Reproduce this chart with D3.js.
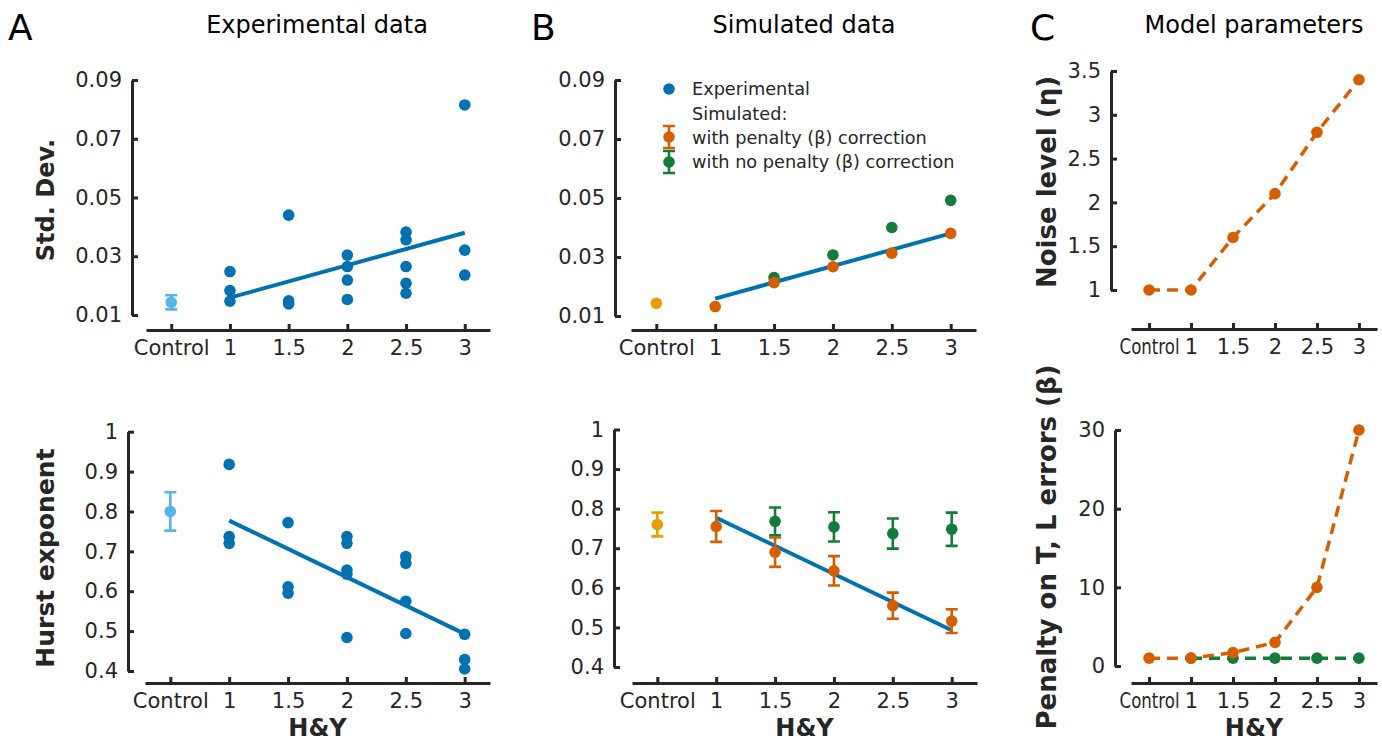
<!DOCTYPE html>
<html lang="en">

<head>
    <meta charset="utf-8">
    <title>H&amp;Y figure</title>
    <script type="text/javascript" src="https://cdn.jsdelivr.net/npm/d3@7"></script>
    <style>
      body { margin: 0; background: #fff; }
      svg text { font-family: 'DejaVu Sans', Verdana, sans-serif; fill: #262626; }
    </style>
</head>

<body>
    <script type="text/javascript">
      //// Data
      var categories = ["Control", "1", "1.5", "2", "2.5", "3"];
      var stages = ["1", "1.5", "2", "2.5", "3"];

      // A: experimental data, one array of subjects per H&Y stage
      var expSdControl = [0.0143, 0.0024];          // mean, error
      var expSd = [
        [0.0248, 0.0183, 0.0147],
        [0.044, 0.0148, 0.0138],
        [0.0304, 0.0265, 0.0219, 0.0153],
        [0.0382, 0.0356, 0.0265, 0.0208, 0.0174],
        [0.0815, 0.0321, 0.0236]
      ];
      var fitSd = [0.0159, 0.038];                  // regression at H&Y 1 and 3

      var expHurstControl = [0.80, 0.048];
      var expHurst = [
        [0.918, 0.737, 0.720],
        [0.772, 0.611, 0.595],
        [0.737, 0.720, 0.653, 0.643, 0.484],
        [0.687, 0.670, 0.575, 0.494],
        [0.492, 0.429, 0.405]
      ];
      var fitHurst = [0.777, 0.493];

      // B: simulated data
      var simSdControl = 0.0143;
      var simSdPenalty = [0.0132, 0.0213, 0.0267, 0.0313, 0.038];
      var simSdNoPenalty = [null, 0.023, 0.0307, 0.040, 0.0492];

      var simHurstControl = [0.760, 0.030];
      var simHurstPenalty = [0.755, 0.690, 0.643, 0.555, 0.516];
      var simHurstPenaltyErr = [0.039, 0.037, 0.037, 0.033, 0.030];
      var simHurstNoPenalty = [null, 0.768, 0.754, 0.737, 0.748];
      var simHurstNoPenaltyErr = [null, 0.035, 0.037, 0.038, 0.042];

      // C: model parameters (Control first)
      var noiseLevel = [1, 1, 1.6, 2.1, 2.8, 3.4];
      var penaltyWith = [1, 1, 1.7, 3, 10, 30];
      var penaltyNo = [null, 1, 1, 1, 1, 1];

      var sdTicks = [0.01, 0.03, 0.05, 0.07, 0.09];
      var hurstTicks = [0.4, 0.5, 0.6, 0.7, 0.8, 0.9, 1];
      var noiseTicks = [1, 1.5, 2, 2.5, 3, 3.5];
      var penaltyTicks = [0, 10, 20, 30];

      //// Colours
      var blue = "#0072B2", sky = "#56B4E9", gold = "#E69F00",
          orange = "#D55E00", green = "#137C3B", ink = "#262626";

      var w = 1382, h = 742;
      var svg = d3.select("body").append("svg")
        .attr("width", w)
        .attr("height", h);

      //// One axes box with offset axes
      function panel(c) {
        var x = d3.scalePoint().domain(categories).range([c.x0, c.x1]).padding(0.43);
        var y = d3.scaleLinear().domain(c.yDomain).range(c.yRange);

        var gy = svg.append("g")
          .attr("transform", "translate(" + c.yAxisX + ",0)")
          .call(d3.axisLeft(y).tickValues(c.yTicks).tickFormat(c.yFmt)
            .tickSizeInner(-6).tickSizeOuter(0).tickPadding(10));
        var gx = svg.append("g")
          .attr("transform", "translate(0," + c.xAxisY + ")")
          .call(d3.axisBottom(x).tickSizeInner(-6).tickSizeOuter(0).tickPadding(10));

        [gx, gy].forEach(function(g) {
          g.select(".domain").attr("stroke", ink).attr("stroke-width", 3);
          g.selectAll(".tick line").attr("stroke", ink).attr("stroke-width", 3);
          g.selectAll(".tick text").attr("font-size", "21px")
            .attr("font-family", null).attr("fill", ink);
        });
        if (c.condensed) {
          // narrow panel: squeeze the Control label
          gx.selectAll(".tick text").filter(function(d) { return d === "Control"; })
            .attr("transform", "scale(0.79,1)");
        }

        if (c.yLabel) {
          svg.append("text")
            .attr("transform", "translate(" + c.yLabelX + "," + c.yLabelY + ") rotate(-90)")
            .attr("dy", "0.36em")
            .attr("text-anchor", "middle")
            .attr("font-weight", "bold")
            .attr("font-size", c.yLabelSize + "px")
            .text(c.yLabel);
        }
        if (c.hy) {
          svg.append("text")
            .attr("x", (c.x0 + c.x1) / 2).attr("y", 736)
            .attr("text-anchor", "middle")
            .attr("font-weight", "bold")
            .attr("font-size", "24px")
            .text("H&Y");
        }
        return { x: x, y: y, g: svg.append("g") };
      }

      function dot(g, cx, cy, col) {
        g.append("circle").attr("cx", cx).attr("cy", cy).attr("r", 5.8).attr("fill", col);
      }

      function errBar(g, cx, y, m, e, col) {
        var p = d3.path();
        p.moveTo(cx, y(m - e)); p.lineTo(cx, y(m + e));
        p.moveTo(cx - 6, y(m - e)); p.lineTo(cx + 6, y(m - e));
        p.moveTo(cx - 6, y(m + e)); p.lineTo(cx + 6, y(m + e));
        g.append("path").attr("d", p.toString()).attr("fill", "none")
          .attr("stroke", col).attr("stroke-width", 2.6);
      }

      function fitLine(P, vals) {
        P.g.append("line")
          .attr("x1", P.x("1")).attr("y1", P.y(vals[0]))
          .attr("x2", P.x("3")).attr("y2", P.y(vals[1]))
          .attr("stroke", blue).attr("stroke-width", 4);
      }

      function scatter(P, groups) {
        groups.forEach(function(vals, i) {
          vals.forEach(function(v) { dot(P.g, P.x(stages[i]), P.y(v), blue); });
        });
      }

      //// Panel letters and titles
      [["A", 8], ["B", 531], ["C", 1030]].forEach(function(l) {
        svg.append("text").attr("x", l[1]).attr("y", 40)
          .attr("font-size", "36px").style("fill", "#000").text(l[0]);
      });
      [["Experimental data", 317], ["Simulated data", 804], ["Model parameters", 1254]].forEach(function(t) {
        svg.append("text").attr("x", t[1]).attr("y", 33)
          .attr("text-anchor", "middle").attr("font-size", "24px")
          .style("fill", "#000").text(t[0]);
      });

      var sdFmt = d3.format(".2f"), gFmt = d3.format("~g");

      //// A top: Std. Dev.
      var aTop = panel({ x0: 146, x1: 490, xAxisY: 330, yAxisX: 132,
        yDomain: [0.01, 0.09], yRange: [315, 80], yTicks: sdTicks, yFmt: sdFmt,
        yLabel: "Std. Dev.", yLabelX: 45, yLabelY: 200, yLabelSize: 24 });
      errBar(aTop.g, aTop.x("Control"), aTop.y, expSdControl[0], expSdControl[1], sky);
      dot(aTop.g, aTop.x("Control"), aTop.y(expSdControl[0]), sky);
      scatter(aTop, expSd);
      fitLine(aTop, fitSd);

      //// A bottom: Hurst exponent
      var aBot = panel({ x0: 145, x1: 490, xAxisY: 683, yAxisX: 128,
        yDomain: [0.4, 1], yRange: [671, 431.7], yTicks: hurstTicks, yFmt: gFmt,
        yLabel: "Hurst exponent", yLabelX: 45, yLabelY: 558, yLabelSize: 25, hy: true });
      errBar(aBot.g, aBot.x("Control"), aBot.y, expHurstControl[0], expHurstControl[1], sky);
      dot(aBot.g, aBot.x("Control"), aBot.y(expHurstControl[0]), sky);
      scatter(aBot, expHurst);
      fitLine(aBot, fitHurst);

      //// B top: simulated Std. Dev.
      var bTop = panel({ x0: 631, x1: 976, xAxisY: 330, yAxisX: 615,
        yDomain: [0.01, 0.09], yRange: [316, 80], yTicks: sdTicks, yFmt: sdFmt });
      fitLine(bTop, fitSd);
      dot(bTop.g, bTop.x("Control"), bTop.y(simSdControl), gold);
      simSdNoPenalty.forEach(function(v, i) {
        if (v !== null) dot(bTop.g, bTop.x(stages[i]), bTop.y(v), green);
      });
      simSdPenalty.forEach(function(v, i) {
        dot(bTop.g, bTop.x(stages[i]), bTop.y(v), orange);
      });

      // legend
      var lg = svg.append("g");
      dot(lg, 669, 89, blue);
      var ly = d3.scaleLinear().domain([0, 1]).range([0, -11]);
      errBar(lg.append("g").attr("transform", "translate(0,137)"), 669, ly, 0, 1, orange);
      dot(lg, 669, 137, orange);
      errBar(lg.append("g").attr("transform", "translate(0,162)"), 669, ly, 0, 1, green);
      dot(lg, 669, 162, green);
      [["Experimental", 95], ["Simulated:", 120], ["with penalty (\u03b2) correction", 144],
       ["with no penalty (\u03b2) correction", 168]].forEach(function(t) {
        lg.append("text").attr("x", 692).attr("y", t[1])
          .attr("font-size", "17.7px").text(t[0]);
      });

      //// B bottom: simulated Hurst exponent
      var bBot = panel({ x0: 632, x1: 977, xAxisY: 683, yAxisX: 614,
        yDomain: [0.4, 1], yRange: [667, 429.5], yTicks: hurstTicks, yFmt: gFmt, hy: true });
      fitLine(bBot, fitHurst);
      errBar(bBot.g, bBot.x("Control"), bBot.y, simHurstControl[0], simHurstControl[1], gold);
      dot(bBot.g, bBot.x("Control"), bBot.y(simHurstControl[0]), gold);
      simHurstPenalty.forEach(function(v, i) {
        errBar(bBot.g, bBot.x(stages[i]), bBot.y, v, simHurstPenaltyErr[i], orange);
        dot(bBot.g, bBot.x(stages[i]), bBot.y(v), orange);
      });
      simHurstNoPenalty.forEach(function(v, i) {
        if (v === null) return;
        errBar(bBot.g, bBot.x(stages[i]), bBot.y, v, simHurstNoPenaltyErr[i], green);
        dot(bBot.g, bBot.x(stages[i]), bBot.y(v), green);
      });

      //// C: model parameters
      function dashed(P, vals, col) {
        var pts = categories.map(function(c, i) { return [c, vals[i]]; })
          .filter(function(d) { return d[1] !== null; });
        P.g.append("path")
          .attr("d", d3.line().x(function(d) { return P.x(d[0]); })
            .y(function(d) { return P.y(d[1]); })(pts))
          .attr("fill", "none").attr("stroke", col).attr("stroke-width", 3.5)
          .attr("stroke-dasharray", "11,7");
        pts.forEach(function(d) { dot(P.g, P.x(d[0]), P.y(d[1]), col); });
      }

      var cTop = panel({ x0: 1131, x1: 1377, xAxisY: 329, yAxisX: 1111,
        yDomain: [1, 3.5], yRange: [290, 71], yTicks: noiseTicks, yFmt: gFmt,
        yLabel: "Noise level (\u03b7)", yLabelX: 1047, yLabelY: 182, yLabelSize: 26,
        condensed: true });
      dashed(cTop, noiseLevel, orange);

      var cBot = panel({ x0: 1131, x1: 1377, xAxisY: 683, yAxisX: 1115,
        yDomain: [0, 30], yRange: [666, 430], yTicks: penaltyTicks, yFmt: gFmt,
        yLabel: "Penalty on T, L errors (\u03b2)", yLabelX: 1047, yLabelY: 547, yLabelSize: 26,
        condensed: true, hy: true });
      dashed(cBot, penaltyNo, green);
      dashed(cBot, penaltyWith, orange);
    </script>
</body>

</html>
